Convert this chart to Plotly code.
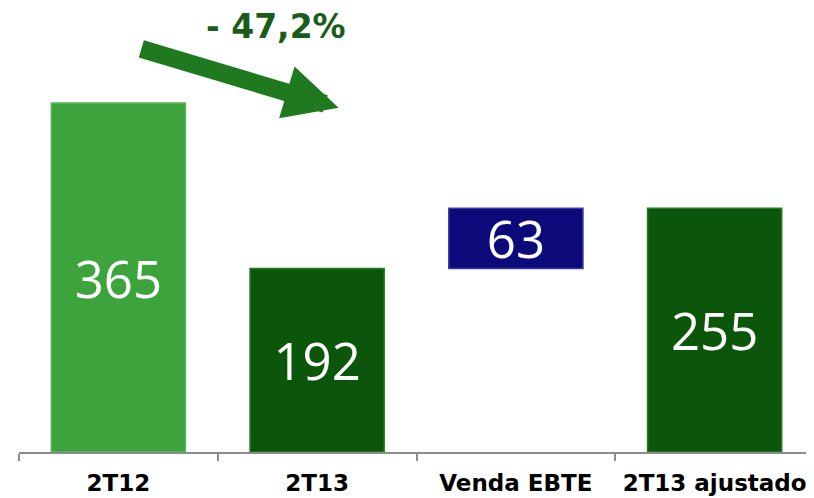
import plotly.graph_objects as go

categories = ["2T12", "2T13", "Venda EBTE", "2T13 ajustado"]
values = [365, 192, 63, 255]
bases = [0, 0, 192, 0]
labels = ["365", "192", "63", "255"]
colors = ["#3da33d", "#0b560b", "#0c0a7a", "#0b560b"]
line_colors = ["#58b858", "#2a7a2a", "#3a3aa0", "#2a7a2a"]
change_text = "- 47,2%"

fig = go.Figure()
fig.add_trace(go.Bar(
    x=categories, y=values, base=bases,
    marker=dict(color=colors, line=dict(color=line_colors, width=1.5)),
    width=0.675,
    text=labels, textposition="inside", insidetextanchor="middle",
    constraintext="none",
    textfont=dict(family="Open Sans", size=51, color="white"),
    textangle=0,
    hoverinfo="skip",
))

fig.add_annotation(
    x=1.108, y=360, xref="x", yref="y",
    ax=0.108, ay=422, axref="x", ayref="y",
    showarrow=True, arrowhead=2, arrowsize=0.6, arrowwidth=18,
    arrowcolor="#1f7a1f", text="",
)
fig.add_annotation(
    x=0.791, y=445, xref="x", yref="y", showarrow=False,
    text="<b>" + change_text + "</b>",
    font=dict(family="DejaVu Sans", size=33, color="#1a5c1a"),
)

fig.update_layout(
    width=806, height=490,
    margin=dict(l=11, r=0, t=0, b=46),
    paper_bgcolor="white", plot_bgcolor="white",
    showlegend=False,
    xaxis=dict(
        range=[-0.5, 3.5], showline=True, linecolor="#8c8c8c", linewidth=2,
        ticks="outside", tickson="boundaries", ticklen=7, tickcolor="#8c8c8c",
        tickwidth=2, tickangle=0, ticklabelstandoff=9,
        tickfont=dict(family="DejaVu Sans", size=23, color="black"),
        showgrid=False, fixedrange=True, automargin=False,
    ),
    yaxis=dict(range=[0, 464.4], visible=False, showgrid=False, fixedrange=True),
)
fig.update_xaxes(tickvals=categories, ticktext=["<b>" + c + "</b>" for c in categories])

fig.write_html("out.html")
